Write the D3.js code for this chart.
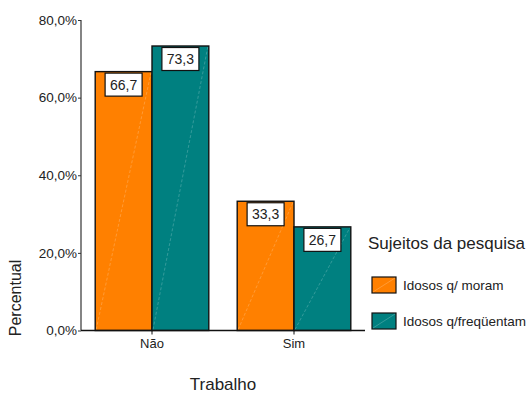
<!DOCTYPE html>
<html>
<head>
<meta charset="utf-8">
<script src="https://cdn.jsdelivr.net/npm/d3@7"></script>
<style>
  html, body { margin: 0; padding: 0; background: #fff; }
  svg { display: block; font-family: Arial, "Liberation Sans", sans-serif; }
</style>
</head>
<body>
<svg id="chart" width="531" height="394"></svg>
<script>
// Work status of the two groups of elderly subjects (percent)
const categories = ["Não", "Sim"];
const seriesNames = ["Idosos q/ moram", "Idosos q/freqüentam"];
const moram = [66.7, 33.3];
const frequentam = [73.3, 26.7];
const yTicks = [0, 20, 40, 60, 80];
const seriesColors = ["#ff8000", "#008080"];

const seriesValues = [moram, frequentam];
const rows = categories.map((c, i) => ({
  category: c,
  values: seriesNames.map((s, j) => ({ series: s, idx: j, value: seriesValues[j][i] }))
}));

const svg = d3.select("#chart");
const comma = v => d3.format(".1f")(v).replace(".", ",");

const x0 = d3.scaleBand().domain(categories).range([81, 365]).paddingInner(0.2).paddingOuter(0.1);
const x1 = d3.scaleBand().domain(seriesNames).range([0, x0.bandwidth()]);
const y = d3.scaleLinear().domain([0, 80]).range([330.5, 20]);

// Y axis
const yAxis = svg.append("g")
  .attr("transform", "translate(81,0)")
  .call(d3.axisLeft(y).tickValues(yTicks).tickSize(3).tickPadding(1).tickFormat(d => comma(d) + "%"));
yAxis.select(".domain").attr("stroke", "#333").attr("stroke-width", 1.2).attr("d", `M0,${y(80)}V${y(0)}`);
yAxis.selectAll(".tick line").attr("stroke", "#333");
yAxis.selectAll(".tick text").attr("font-size", 13.5).attr("fill", "#222")
  .attr("font-family", "Arial, 'Liberation Sans', sans-serif");

// Bars
const groups = svg.append("g").selectAll("g").data(rows).join("g")
  .attr("transform", d => `translate(${x0(d.category)},0)`);

groups.selectAll("rect").data(d => d.values).join("rect")
  .attr("x", d => x1(d.series))
  .attr("y", d => y(d.value))
  .attr("width", x1.bandwidth())
  .attr("height", d => y(0) - y(d.value))
  .attr("fill", d => seriesColors[d.idx])
  .attr("stroke", "#111")
  .attr("stroke-width", 1.4);

// faint diagonal fill stroke inside each bar
groups.selectAll("line.diag").data(d => d.values).join("line")
  .attr("class", "diag")
  .attr("x1", d => x1(d.series) + 1)
  .attr("y1", y(0) - 1)
  .attr("x2", d => x1(d.series) + x1.bandwidth() - 1)
  .attr("y2", d => y(d.value) + 1)
  .attr("stroke", "#ffffff")
  .attr("stroke-opacity", 0.3)
  .attr("stroke-width", 0.7)
  .attr("stroke-dasharray", "3,2");

// Value labels in white boxes
const labels = groups.selectAll("g.lab").data(d => d.values).join("g")
  .attr("class", "lab")
  .attr("transform", d => `translate(${x1(d.series) + x1.bandwidth() / 2},${y(d.value) + 1.5})`);
labels.append("rect")
  .attr("x", -18.5).attr("y", 0).attr("width", 37).attr("height", 23)
  .attr("fill", "#fff").attr("stroke", "#111").attr("stroke-width", 1.2);
labels.append("text")
  .attr("text-anchor", "middle").attr("y", 16.5)
  .attr("font-size", 14).attr("fill", "#222")
  .text(d => comma(d.value));

// X baseline and category ticks
svg.append("line")
  .attr("x1", 81).attr("x2", 365).attr("y1", y(0)).attr("y2", y(0))
  .attr("stroke", "#111").attr("stroke-width", 1.4);
const xAxis = svg.append("g").attr("transform", `translate(0,${y(0)})`)
  .call(d3.axisBottom(x0).tickSize(4).tickPadding(4));
xAxis.select(".domain").remove();
xAxis.selectAll(".tick line").attr("stroke", "#111");
xAxis.selectAll(".tick text").attr("font-size", 13).attr("fill", "#222")
  .attr("font-family", "Arial, 'Liberation Sans', sans-serif");

// Axis titles
svg.append("text")
  .attr("x", 223).attr("y", 390)
  .attr("text-anchor", "middle").attr("font-size", 17).attr("fill", "#222")
  .text("Trabalho");
svg.append("text")
  .attr("transform", "translate(21,298) rotate(-90)")
  .attr("text-anchor", "middle").attr("font-size", 16).attr("fill", "#222")
  .text("Percentual");

// Legend
const legend = svg.append("g");
legend.append("text")
  .attr("x", 368).attr("y", 249)
  .attr("font-size", 17).attr("fill", "#222")
  .text("Sujeitos da pesquisa");
const items = legend.selectAll("g.item").data(seriesNames).join("g")
  .attr("class", "item")
  .attr("transform", (d, i) => `translate(372,${277 + i * 36})`);
items.append("rect")
  .attr("width", 24).attr("height", 16)
  .attr("fill", (d, i) => seriesColors[i])
  .attr("stroke", "#111").attr("stroke-width", 1.2);
items.append("line")
  .attr("x1", 1).attr("y1", 15).attr("x2", 23).attr("y2", 1)
  .attr("stroke", "#fff").attr("stroke-opacity", 0.3).attr("stroke-width", 0.7);
items.append("text")
  .attr("x", 31).attr("y", 12.5)
  .attr("font-size", 13.5).attr("fill", "#222")
  .text(d => d);
</script>
</body>
</html>
